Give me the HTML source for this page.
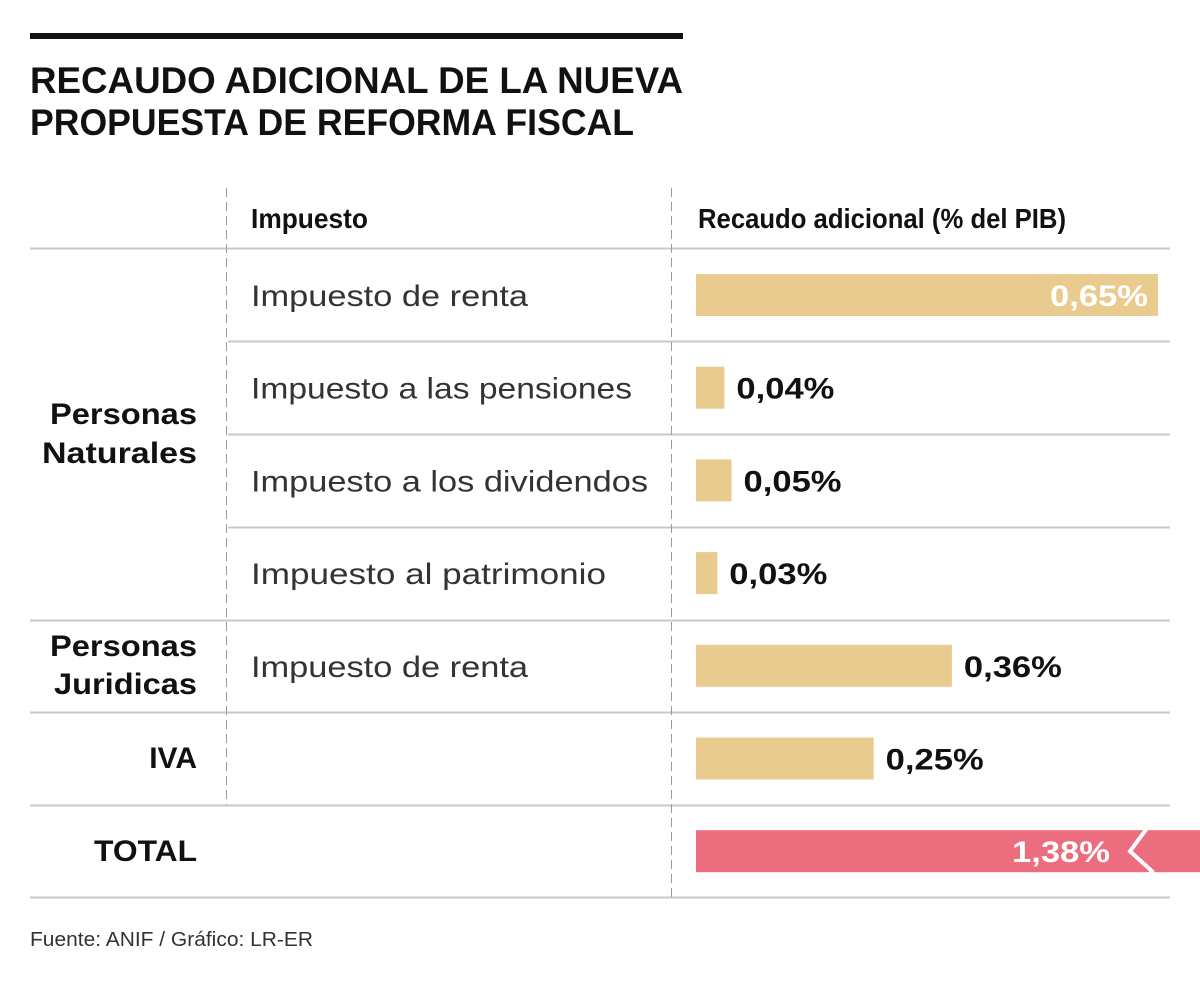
<!DOCTYPE html>
<html><head><meta charset="utf-8">
<style>
html,body{margin:0;padding:0;background:#fff;}
svg{display:block;font-family:"Liberation Sans",sans-serif;}
</style></head>
<body>
<svg id="chart" width="1200" height="981" viewBox="0 0 1200 981">
  <rect x="30" y="33" width="653" height="6" fill="#111"/>
  <text x="30" y="93" font-size="37" font-weight="bold" fill="#111" textLength="653" lengthAdjust="spacingAndGlyphs">RECAUDO ADICIONAL DE LA NUEVA</text>
  <text x="30" y="135" font-size="37" font-weight="bold" fill="#111" textLength="604" lengthAdjust="spacingAndGlyphs">PROPUESTA DE REFORMA FISCAL</text>

  <text x="251" y="228" font-size="28" font-weight="bold" fill="#111" textLength="117" lengthAdjust="spacingAndGlyphs">Impuesto</text>
  <text x="698" y="228" font-size="28" font-weight="bold" fill="#111" textLength="368" lengthAdjust="spacingAndGlyphs">Recaudo adicional (% del PIB)</text>

  <g id="grid">
    <line x1="30" y1="248.5" x2="1170" y2="248.5" stroke="#c8c8c8" stroke-width="2"/>
    <line x1="228" y1="341.5" x2="1170" y2="341.5" stroke="#c8c8c8" stroke-width="2"/>
    <line x1="228" y1="434.5" x2="1170" y2="434.5" stroke="#c8c8c8" stroke-width="2"/>
    <line x1="228" y1="527.5" x2="1170" y2="527.5" stroke="#c8c8c8" stroke-width="2"/>
    <line x1="30" y1="620.5" x2="1170" y2="620.5" stroke="#c8c8c8" stroke-width="2"/>
    <line x1="30" y1="712.5" x2="1170" y2="712.5" stroke="#c8c8c8" stroke-width="2"/>
    <line x1="30" y1="805.5" x2="1170" y2="805.5" stroke="#c8c8c8" stroke-width="2"/>
    <line x1="30" y1="897.5" x2="1170" y2="897.5" stroke="#c8c8c8" stroke-width="2"/>
    <line x1="226.5" y1="188" x2="226.5" y2="805" stroke="#999" stroke-width="1" stroke-dasharray="9,5"/>
    <line x1="671.5" y1="188" x2="671.5" y2="897" stroke="#999" stroke-width="1" stroke-dasharray="9,5"/>
  </g>

  <text x="197" y="424" font-size="30" font-weight="bold" fill="#111" text-anchor="end" textLength="147" lengthAdjust="spacingAndGlyphs">Personas</text>
  <text x="197" y="463" font-size="30" font-weight="bold" fill="#111" text-anchor="end" textLength="155" lengthAdjust="spacingAndGlyphs">Naturales</text>
  <text x="197" y="656" font-size="30" font-weight="bold" fill="#111" text-anchor="end" textLength="147" lengthAdjust="spacingAndGlyphs">Personas</text>
  <text x="197" y="694" font-size="30" font-weight="bold" fill="#111" text-anchor="end" textLength="143" lengthAdjust="spacingAndGlyphs">Juridicas</text>
  <text x="197" y="768" font-size="30" font-weight="bold" fill="#111" text-anchor="end">IVA</text>
  <text x="197" y="861" font-size="30" font-weight="bold" fill="#111" text-anchor="end" textLength="103" lengthAdjust="spacingAndGlyphs">TOTAL</text>

  <g id="rows"></g>

  <text x="30" y="946" font-size="20" fill="#333" textLength="283" lengthAdjust="spacingAndGlyphs">Fuente: ANIF / Gráfico: LR-ER</text>
</svg>
<script>
const taxes = ["Impuesto de renta","Impuesto a las pensiones","Impuesto a los dividendos","Impuesto al patrimonio","Impuesto de renta","",""];
const values = [0.65,0.04,0.05,0.03,0.36,0.25,1.38];
const valueLabels = ["0,65%","0,04%","0,05%","0,03%","0,36%","0,25%","1,38%"];
const taxWidths = [277,381,397,355,277,0,0];

const NS = "http://www.w3.org/2000/svg";
const g = document.getElementById("rows");
const x0 = 696;
function xScale(v){ return (1158-696)/0.65 * v; }
function rowCenter(i){ return 295 + i*92.7; }
const barH = 42;

values.forEach((v,i)=>{
  const cy = rowCenter(i);
  const isTotal = i === values.length-1;
  if (taxes[i]) {
    const t = document.createElementNS(NS,"text");
    t.setAttribute("x",251); t.setAttribute("y",cy+11);
    t.setAttribute("font-size","30"); t.setAttribute("fill","#333");
    t.setAttribute("textLength",taxWidths[i]); t.setAttribute("lengthAdjust","spacingAndGlyphs");
    t.textContent = taxes[i];
    
    
    g.appendChild(t);
  }
  let w = xScale(v);
  if (isTotal) w = Math.min(w, 1200 - x0);
  const r = document.createElementNS(NS,"rect");
  r.setAttribute("x",x0); r.setAttribute("y",cy-barH/2);
  r.setAttribute("width",w); r.setAttribute("height",barH);
  r.setAttribute("fill", isTotal ? "#ec6d7e" : "#e9cb8f");
  
  
  g.appendChild(r);
  const lab = document.createElementNS(NS,"text");
  lab.setAttribute("font-size","30"); lab.setAttribute("font-weight","bold");
  lab.setAttribute("y",cy+11);
  lab.textContent = valueLabels[i];
  if (isTotal) {
    lab.setAttribute("x",1110); lab.setAttribute("text-anchor","end"); lab.setAttribute("fill","#fff");
    const z = document.createElementNS(NS,"polyline");
    z.setAttribute("points",`1150,${cy-27} 1130,${cy} 1152,${cy+20} 1146,${cy+27}`);
    z.setAttribute("fill","none"); z.setAttribute("stroke","#fff"); z.setAttribute("stroke-width","4");
    
    
    g.appendChild(z);
  } else if (w > 400) {
    lab.setAttribute("x",x0+w-10); lab.setAttribute("text-anchor","end"); lab.setAttribute("fill","#fff");
  } else {
    lab.setAttribute("x",x0+w+12); lab.setAttribute("fill","#111");
  }
  lab.setAttribute("textLength","98"); lab.setAttribute("lengthAdjust","spacingAndGlyphs");
  
  
  g.appendChild(lab);
});
</script>
</body></html>
